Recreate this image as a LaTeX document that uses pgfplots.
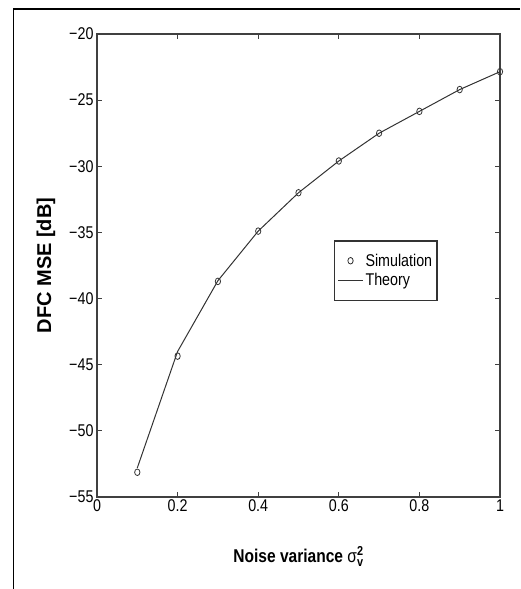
\documentclass[border=0pt]{standalone}
\usepackage{amsmath}
\usepackage{fontspec}
\setmainfont{Liberation Sans}[FakeStretch=0.84]
\newfontfamily\ylfont{Liberation Sans}
\usepackage{pgfplots}
\pgfplotsset{compat=1.18}
\definecolor{axisgray}{gray}{0.25}
\definecolor{linegray}{gray}{0.2}

% simulated and theoretical MSE vs noise variance
\pgfplotstableread{
x     sim      theory
0.1  -53.13   -52.8
0.2  -44.35   -44.0
0.3  -38.7    -38.65
0.4  -34.9    -34.9
0.5  -32.0    -32.0
0.6  -29.6    -29.6
0.7  -27.5    -27.5
0.8  -25.85   -25.85
0.9  -24.2    -24.2
1.0  -22.85   -22.85
}\mse

\begin{document}
\begin{tikzpicture}
\useasboundingbox (0pt,0pt) rectangle (520pt,589pt);
% outer frame (left and top edges)
\draw[line width=1.6pt,black] (13.5pt,0pt) -- (13.5pt,580pt) -- (520pt,580pt);
\begin{axis}[
    at={(97pt,92pt)}, anchor=south west,
    scale only axis,
    width=403pt, height=463pt,
    xmin=0, xmax=1, ymin=-55, ymax=-20,
    xtick={0,0.2,...,1}, ytick={-55,-50,...,-20},
    xticklabels={0,0.2,0.4,0.6,0.8,1},
    yticklabels={−55,−50,−45,−40,−35,−30,−25,−20},
    tick align=inside, ticks=major,
    major tick length=5pt,
    axis line style={axisgray,line width=1.2pt},
    every tick/.style={axisgray,line width=1.1pt},
    tick label style={font=\fontsize{17}{20}\selectfont},
    xticklabel style={yshift=1pt},
    xlabel={\fontsize{18.5}{20}\selectfont\bfseries Noise variance $\text{\mdseries σ}^{\textbf{2}}_{\textbf{v}}$},
    ylabel={\ylfont\fontsize{20}{22}\selectfont\bfseries DFC MSE [dB]},
    xlabel style={at={(0.5,0)}, anchor=base, yshift=-65pt},
    ylabel style={at={(0,0.5)}, anchor=center, yshift=51pt},
    legend style={at={(0.5874,0.555)}, anchor=north west,
        draw=black!80, line width=1.6pt, fill=white, font=\fontsize{17}{20}\selectfont,
        inner xsep=3pt, inner ysep=11pt, row sep=2pt},
    legend cell align=left,
    legend image code/.code={\draw[line width=1pt] plot coordinates {(0pt,0pt) (25pt,0pt)};},
]
\addplot[only marks, mark=o, mark size=3.3pt, linegray,
    mark options={line width=0.8pt, xscale=0.8},
    legend image code/.code={\draw plot coordinates {(12.5pt,0pt)};}]
    table[x=x,y=sim] {\mse};
\addplot[no marks, linegray, line width=1pt] table[x=x,y=theory] {\mse};
\legend{Simulation,Theory}
\end{axis}
\end{tikzpicture}
\end{document}
